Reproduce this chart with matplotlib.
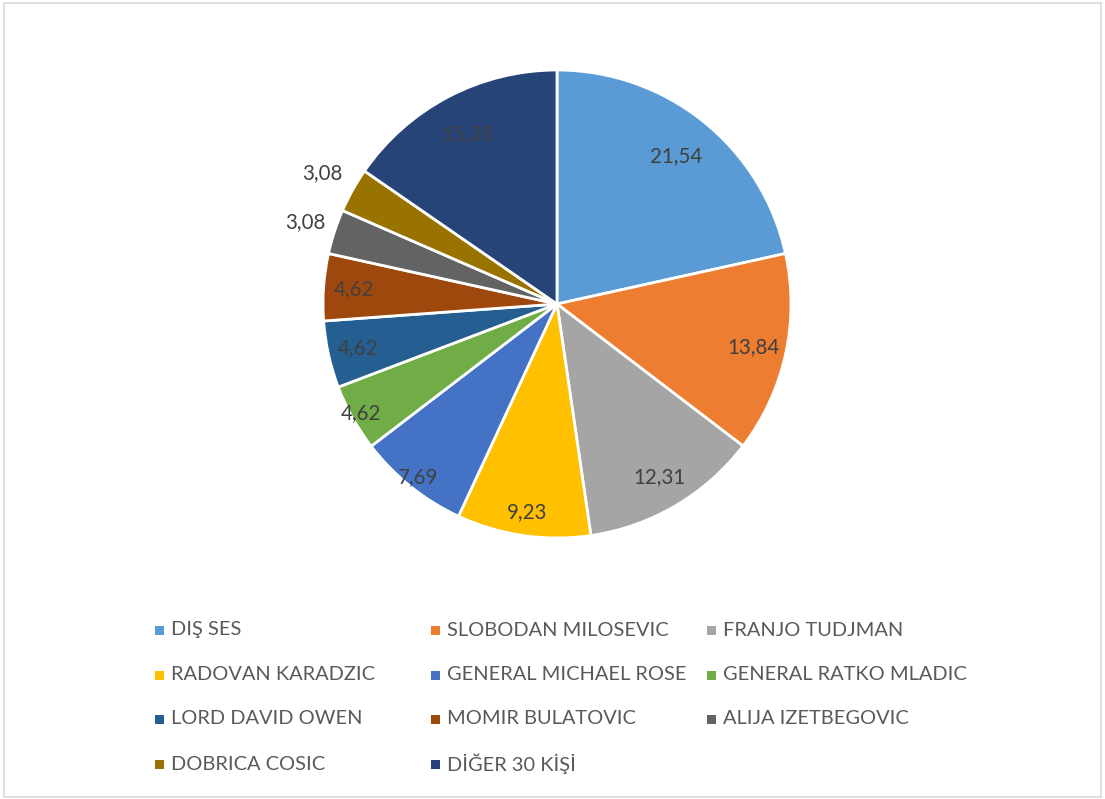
import matplotlib.pyplot as plt
import numpy as np
from matplotlib.patches import Rectangle

plt.rcParams["font.family"] = ["Lato", "DejaVu Sans"]

names = [
    "DIŞ SES", "SLOBODAN MILOSEVIC", "FRANJO TUDJMAN", "RADOVAN KARADZIC",
    "GENERAL MICHAEL ROSE", "GENERAL RATKO MLADIC", "LORD DAVID OWEN",
    "MOMIR BULATOVIC", "ALIJA IZETBEGOVIC", "DOBRICA COSIC", "DİĞER 30 KİŞİ",
]
shares = [21.54, 13.84, 12.31, 9.23, 7.69, 4.62, 4.62, 4.62, 3.08, 3.08, 15.38]
colors = ["#5B9BD5", "#ED7D31", "#A5A5A5", "#FFC000", "#4472C4", "#70AD47",
          "#255E91", "#9E480E", "#636363", "#997300", "#264478"]
# radial position of each value label (fraction of radius)
label_r = [0.81, 0.86, 0.86, 0.9, 0.95, 0.96, 0.87, 0.87, 1.13, 1.15, 0.82]

W, H = 1105, 799
fig = plt.figure(figsize=(W / 100, H / 100), dpi=100)
fig.patches.append(Rectangle((4 / W, 2 / H), 1097 / W, 794 / H, transform=fig.transFigure,
                             fill=False, ec="#D9D9D9", lw=1.2))

cx, cy, r = 557, 304, 234
ax = fig.add_axes([(cx - r) / W, (H - cy - r) / H, 2 * r / W, 2 * r / H])
wedges, _ = ax.pie(shares, colors=colors, startangle=90, counterclock=False,
                   wedgeprops={"edgecolor": "white", "linewidth": 2})
ax.set_xlim(-1, 1)
ax.set_ylim(-1, 1)
ax.axis("off")

for w, v, lr in zip(wedges, shares, label_r):
    ang = np.deg2rad((w.theta1 + w.theta2) / 2)
    ax.text(lr * np.cos(ang), lr * np.sin(ang), f"{v:.2f}".replace(".", ","),
            ha="center", va="center", fontsize=14.8, color="#404040", clip_on=False)

# legend, three columns
col_x = [160, 436, 712]
row_y = [630, 675, 719, 764]
for i, (name, c) in enumerate(zip(names, colors)):
    x = col_x[i % 3]
    y = row_y[i // 3]
    fig.patches.append(Rectangle(((x - 5) / W, (H - y - 5) / H), 9 / W, 9 / H,
                                 transform=fig.transFigure, fc=c, ec="none"))
    fig.text((x + 11) / W, (H - y) / H, name, ha="left", va="center",
             fontsize=14.4, color="#595959")

fig.savefig("out.png", dpi=100)
